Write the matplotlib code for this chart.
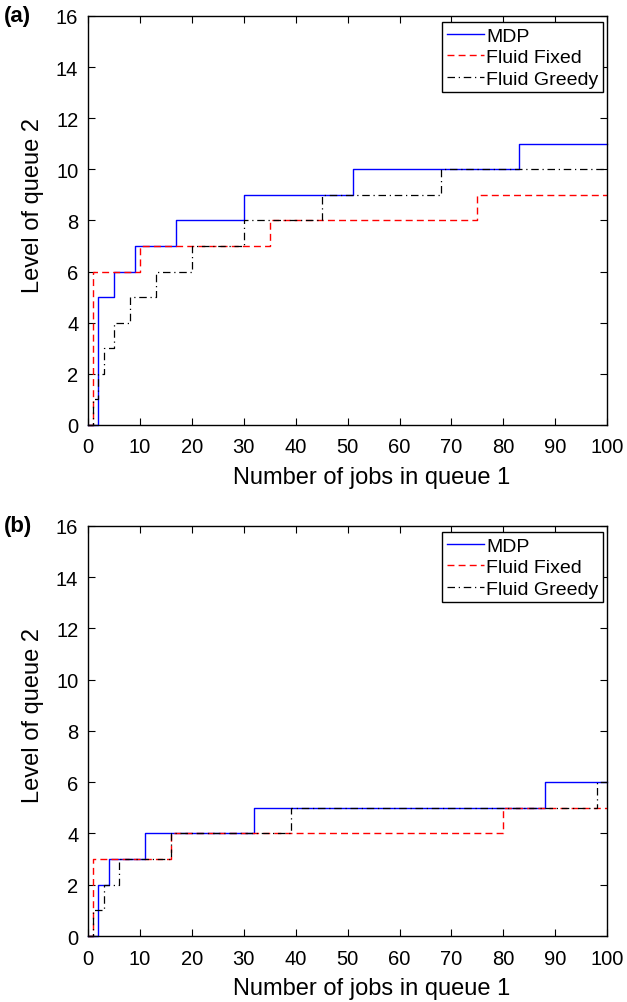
import matplotlib
matplotlib.use("Agg")
import matplotlib.pyplot as plt

plt.rcParams['font.family'] = ['Liberation Sans', 'DejaVu Sans']

# Switching thresholds: level of queue 2 as a function of jobs in queue 1
# (a)
a_mdp_x = [0, 2, 5, 9, 17, 30, 51, 83, 100]
a_mdp_y = [0, 5, 6, 7, 8, 9, 10, 11, 11]
a_fixed_x = [0, 1, 10, 35, 75, 100]
a_fixed_y = [0, 6, 7, 8, 9, 9]
a_greedy_x = [0, 1, 2, 3, 5, 8, 13, 20, 30, 45, 68, 100]
a_greedy_y = [0, 1, 2, 3, 4, 5, 6, 7, 8, 9, 10, 10]
# (b)
b_mdp_x = [0, 2, 4, 11, 32, 88, 100]
b_mdp_y = [0, 2, 3, 4, 5, 6, 6]
b_fixed_x = [0, 1, 16, 80, 100]
b_fixed_y = [0, 3, 4, 5, 5]
b_greedy_x = [0, 1, 3, 6, 16, 39, 98, 100]
b_greedy_y = [0, 1, 2, 3, 4, 5, 6, 6]

series_names = ["MDP", "Fluid Fixed", "Fluid Greedy"]
x_ticks = list(range(0, 101, 10))
y_ticks = list(range(0, 17, 2))

fig = plt.figure(figsize=(6.27, 10.03), dpi=100)
ax_a = fig.add_axes([0.1404, 0.5753, 0.828, 0.4078])
ax_b = fig.add_axes([0.1404, 0.0658, 0.828, 0.4088])

panels = [
    (ax_a, "(a)", (a_mdp_x, a_mdp_y), (a_fixed_x, a_fixed_y), (a_greedy_x, a_greedy_y)),
    (ax_b, "(b)", (b_mdp_x, b_mdp_y), (b_fixed_x, b_fixed_y), (b_greedy_x, b_greedy_y)),
]

for ax, tag, mdp, fixed, greedy in panels:
    ax.plot(mdp[0], mdp[1], drawstyle='steps-post', color='#0000ff', lw=1.0,
            label=series_names[0], clip_on=False)
    ax.plot(fixed[0], fixed[1], drawstyle='steps-post', color='#ff0000', lw=1.0,
            ls=(0, (5, 3)), label=series_names[1], clip_on=False)
    ax.plot(greedy[0], greedy[1], drawstyle='steps-post', color='black', lw=0.9,
            ls=(0, (6, 3, 1, 3)), label=series_names[2], clip_on=False)
    ax.set_xlim(0, 100)
    ax.set_ylim(0, 16)
    ax.set_xticks(x_ticks)
    ax.set_yticks(y_ticks)
    ax.tick_params(axis='x', pad=9)
    ax.tick_params(axis='y', pad=7)
    ax.tick_params(direction='in', top=True, right=True, labelsize=14.5,
                   length=5, width=0.8)
    for s in ax.spines.values():
        s.set_linewidth(1.0)
    ax.set_xlabel("Number of jobs in queue 1", fontsize=17)
    ax.xaxis.set_label_coords(0.547, -0.1)
    ax.set_ylabel("Level of queue 2", fontsize=17)
    ax.yaxis.set_label_coords(-0.085, 0.54)
    leg = ax.legend(loc='upper right', bbox_to_anchor=(0.992, 0.985),
                    fontsize=14, handlelength=1.9,
                    handletextpad=0.1, borderpad=0.25, labelspacing=0.2,
                    fancybox=False, edgecolor='black', framealpha=1,
                    borderaxespad=0.0)
    leg.get_frame().set_linewidth(1.0)
    ax.text(-0.162, 1.0, tag, transform=ax.transAxes, fontsize=16,
            fontweight='bold', ha='left', va='center')

fig.savefig("out.png", dpi=100)
